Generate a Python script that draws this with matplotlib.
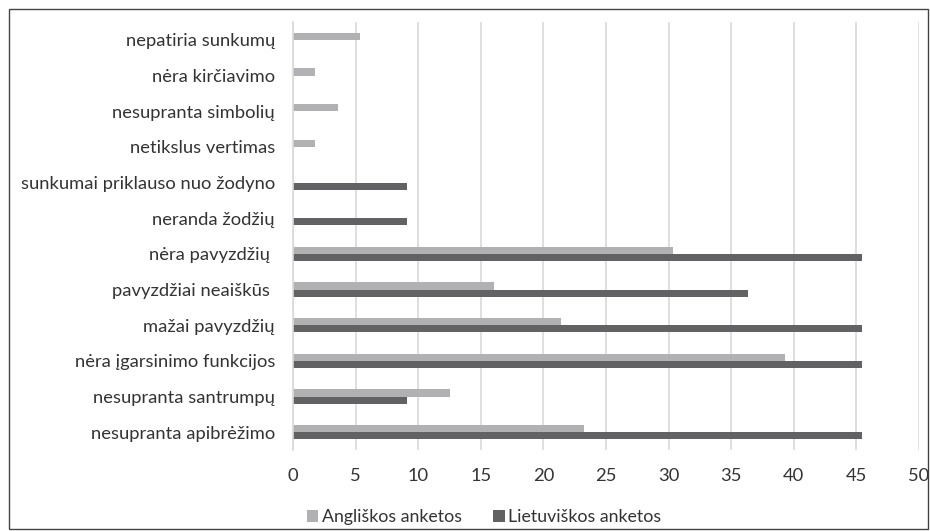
import numpy as np
import matplotlib
matplotlib.use("Agg")
import matplotlib.pyplot as plt
from matplotlib.patches import Rectangle

plt.rcParams["font.family"] = ["Lato", "DejaVu Sans"]

categories = ["nepatiria sunkumų", "nėra kirčiavimo", "nesupranta simbolių",
              "netikslus vertimas", "sunkumai priklauso nuo žodyno", "neranda žodžių",
              "nėra pavyzdžių ", "pavyzdžiai neaiškūs ", "mažai pavyzdžių",
              "nėra įgarsinimo funkcijos", "nesupranta santrumpų", "nesupranta apibrėžimo"]
anglu = [5.36, 1.79, 3.57, 1.79, 0, 0, 30.36, 16.07, 21.43, 39.29, 12.5, 23.21]
lietuviu = [0, 0, 0, 0, 9.09, 9.09, 45.45, 36.36, 45.45, 45.45, 9.09, 45.45]

C_LIGHT = "#b1b1b4"
C_DARK = "#626264"
FS = 13.2

fig = plt.figure(figsize=(9.3, 5.31), dpi=100)
ax = fig.add_axes([293 / 930, 1 - 450 / 531, 626 / 930, 428 / 531])

y = np.arange(len(categories))
h = 0.2
ax.barh(y - h / 2, anglu, h, color=C_LIGHT, label="Angliškos anketos")
ax.barh(y + h / 2, lietuviu, h, color=C_DARK, label="Lietuviškos anketos")

ax.set_yticks(y)
ax.set_yticklabels(categories, fontsize=FS, color="#333333")
ax.set_ylim(len(categories) - 0.5, -0.5)
ax.set_xlim(0, 50)
ax.set_xticks(np.arange(0, 51, 5))
ax.tick_params(axis="x", labelsize=FS, colors="#333333", length=0, pad=13)
ax.tick_params(axis="y", length=0, pad=13)
ax.grid(axis="x", color="#d9d9d9", lw=1.2)
ax.set_axisbelow(True)
for s in ["top", "right", "bottom"]:
    ax.spines[s].set_visible(False)
ax.spines["left"].set_color("#d9d9d9")
ax.spines["left"].set_linewidth(1.2)

fig.legend(loc="center", bbox_to_anchor=(484.5 / 930, 1 - 517 / 531), ncol=2,
           frameon=False, fontsize=12.8, handlelength=0.62, handleheight=0.62,
           handletextpad=0.22, columnspacing=1.75, labelcolor="#333333")

fig.patches.append(Rectangle((9 / 930, 0.003), 1 - 11 / 930, 1 - 9 / 531 - 0.003,
                             transform=fig.transFigure, fill=False,
                             edgecolor="#444444", lw=1))

fig.savefig("out.png", dpi=100)
